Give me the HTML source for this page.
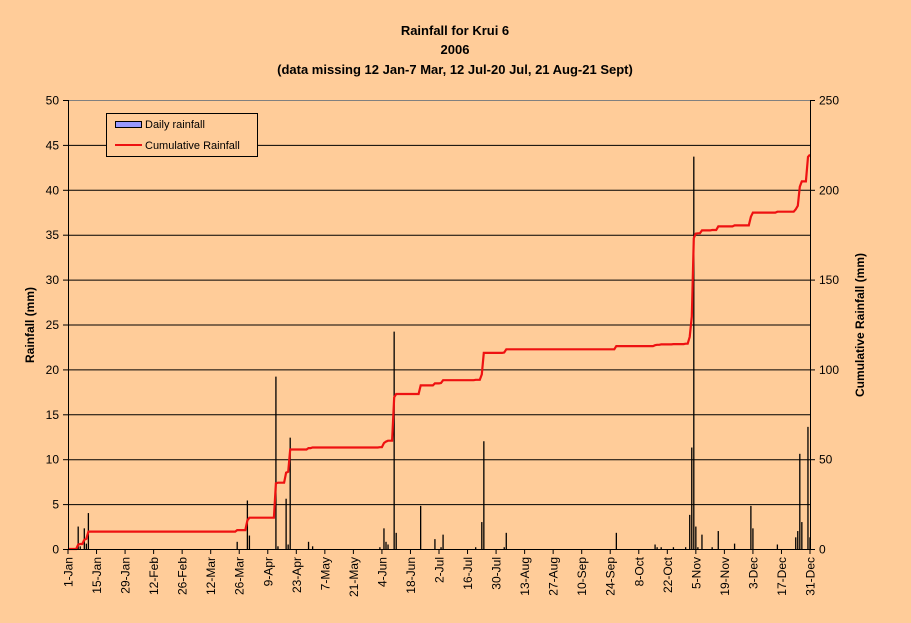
<!DOCTYPE html>
<html><head><meta charset="utf-8"><style>
body{margin:0;background:#ffcc99;}
svg{display:block;font-family:"Liberation Sans",Arial,sans-serif;}
</style></head><body>
<svg id="chart" width="911" height="623" viewBox="0 0 911 623">
<rect x="0" y="0" width="911" height="623" fill="#ffcc99"/>
<g font-weight="bold" font-size="13" text-anchor="middle">
<text x="455" y="35">Rainfall for Krui 6</text>
<text x="455" y="54">2006</text>
<text x="455" y="74">(data missing 12 Jan-7 Mar, 12 Jul-20 Jul, 21 Aug-21 Sept)</text>
</g>
<g id="grid"></g>
<g id="bars"></g>
<path id="cum" fill="none" stroke="#ee1111" stroke-width="2.2"/>
<g id="axes"></g>
<text transform="translate(34,325) rotate(-90)" text-anchor="middle" font-weight="bold" font-size="12">Rainfall (mm)</text>
<text transform="translate(864,325) rotate(-90)" text-anchor="middle" font-weight="bold" font-size="12">Cumulative Rainfall (mm)</text>
<g>
<rect x="106.5" y="113.5" width="151" height="43" fill="#ffcc99" stroke="#000"/>
<rect x="115.5" y="121.5" width="26" height="6" fill="#9999ff" stroke="#000"/>
<text x="145" y="128" font-size="11">Daily rainfall</text>
<line x1="115" y1="145" x2="142" y2="145" stroke="#ee1111" stroke-width="2"/>
<text x="145" y="149" font-size="11">Cumulative Rainfall</text>
</g>
</svg>
<script>
const days = [5,6,8,9,10,83,88,89,102,103,107,108,109,118,120,153,155,156,157,160,161,173,180,183,184,200,203,204,214,215,269,288,289,291,297,303,305,306,307,308,309,311,316,319,327,335,336,348,357,358,359,360,363,364];
const rain = [2.5,0.3,2.3,0.6,4.0,0.8,5.4,1.5,19.2,0.3,5.6,0.5,12.4,0.8,0.3,0.2,2.3,0.8,0.5,24.2,1.8,4.8,1.1,0.2,1.6,0.2,3.0,12.0,0.2,1.8,1.8,0.5,0.2,0.2,0.2,0.2,3.8,11.3,43.7,2.5,0.2,1.6,0.2,2.0,0.6,4.8,2.3,0.5,1.3,2.0,10.6,3.0,13.6,1.3];
const tickLabels = ["1-Jan","15-Jan","29-Jan","12-Feb","26-Feb","12-Mar","26-Mar","9-Apr","23-Apr","7-May","21-May","4-Jun","18-Jun","2-Jul","16-Jul","30-Jul","13-Aug","27-Aug","10-Sep","24-Sep","8-Oct","22-Oct","5-Nov","19-Nov","3-Dec","17-Dec","31-Dec"];
const yTicks = [0,5,10,15,20,25,30,35,40,45,50];
const y2Ticks = [0,50,100,150,200,250];

const X0=68,X1=810,Y0=549,Y1=100;
const xs=d=>X0+(X1-X0)*d/364;
const ys=v=>Y0-(Y0-Y1)*v/50;
const ys2=v=>Y0-(Y0-Y1)*v/250;
const NS="http://www.w3.org/2000/svg";
function mk(tag,attrs,parent){const e=document.createElementNS(NS,tag);for(const k in attrs)e.setAttribute(k,attrs[k]);parent.appendChild(e);return e;}
const grid=document.getElementById('grid'),bars=document.getElementById('bars'),axes=document.getElementById('axes');
yTicks.forEach((v,i)=>{
  if(v>0){const l=mk('line',{x1:X0,x2:X1,y1:ys(v)+0.5,y2:ys(v)+0.5,stroke:v===50?'#808080':'#000','stroke-width':1},grid);
  
  }
  const t=mk('line',{x1:X0-5,x2:X0,y1:ys(v)+0.5,y2:ys(v)+0.5,stroke:'#000'},axes);
  
  
  const tx=mk('text',{x:X0-9,y:ys(v)+4.5,'text-anchor':'end','font-size':12},axes);
  tx.textContent=v;
  
  
});
y2Ticks.forEach(v=>{
  const t=mk('line',{x1:X1,x2:X1+5,y1:ys2(v)+0.5,y2:ys2(v)+0.5,stroke:'#000'},axes);
  
  
  const tx=mk('text',{x:X1+9,y:ys2(v)+4.5,'font-size':12},axes);
  tx.textContent=v;
  
  
});
days.forEach((d,i)=>{
  const b=mk('line',{x1:xs(d),x2:xs(d),y1:Y0,y2:ys(rain[i]),stroke:'#000','stroke-width':1.3},bars);
  
  
});
// cumulative line (derived from daily values)
let cum=0,pts=[[xs(0),ys2(0)]];
days.forEach((d,i)=>{pts.push([xs(d-1),ys2(cum)]);cum+=rain[i];pts.push([xs(d),ys2(cum)]);});
pts.push([xs(364),ys2(cum)]);
document.getElementById('cum').setAttribute('d','M'+pts.map(p=>p[0].toFixed(1)+','+p[1].toFixed(1)).join('L'));
// axes lines
const la=mk('line',{x1:X0+0.5,x2:X0+0.5,y1:Y1,y2:Y0,stroke:'#000'},axes);


const ra=mk('line',{x1:X1+0.5,x2:X1+0.5,y1:Y1,y2:Y0,stroke:'#000'},axes);


const xa=mk('line',{x1:X0,x2:X1,y1:Y0+0.5,y2:Y0+0.5,stroke:'#000'},axes);


tickLabels.forEach((lab,i)=>{
  const x=xs(i*14);
  const t=mk('line',{x1:x,x2:x,y1:Y0,y2:Y0+5,stroke:'#000'},axes);
  
  
  const tx=mk('text',{transform:`translate(${x+4.5},${Y0+8}) rotate(-90)`,'text-anchor':'end','font-size':12},axes);
  tx.textContent=lab;
  
  
});
</script>
</body></html>
